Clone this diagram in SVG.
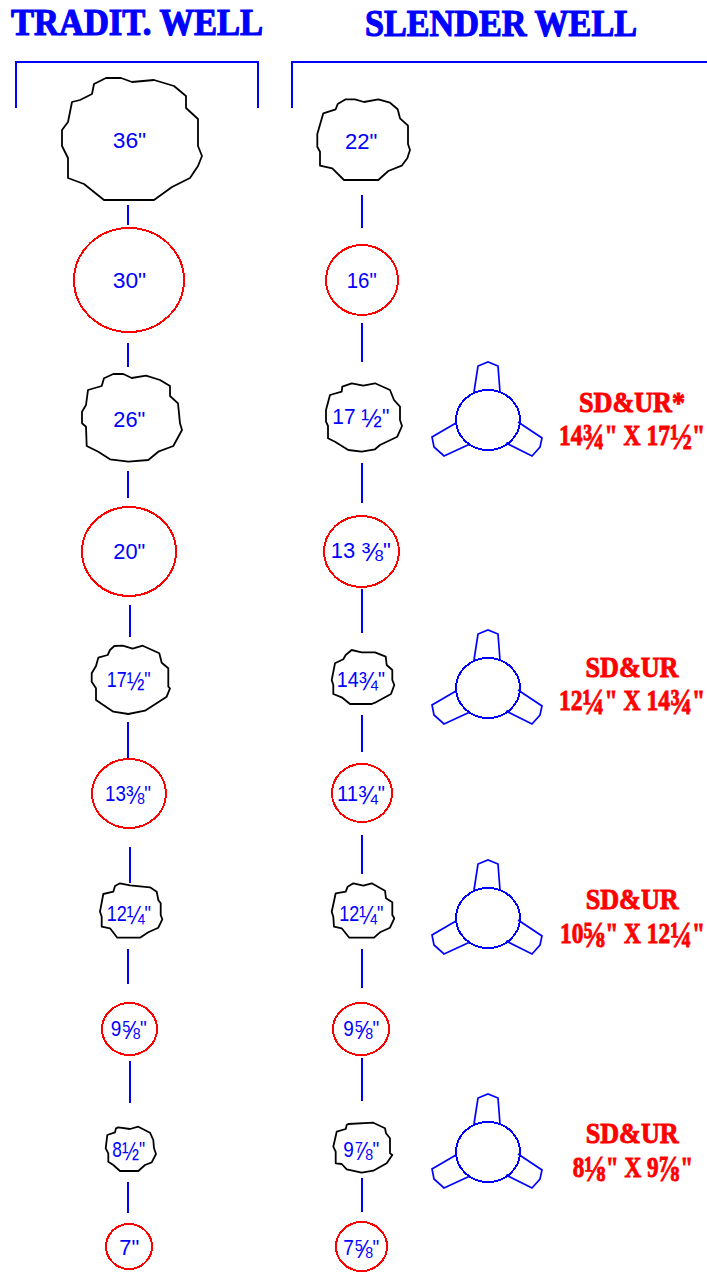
<svg xmlns="http://www.w3.org/2000/svg" xmlns:xlink="http://www.w3.org/1999/xlink" width="707" height="1274" viewBox="0 0 707 1274">
<style>
.bg{fill:#fff}
.con{stroke:#00f;stroke-width:2;fill:none}
.blob{fill:none;stroke:#000;stroke-width:1.8;stroke-linejoin:round}
.hole{fill:none;stroke:#f00;stroke-width:2;shape-rendering:crispEdges}
.lab{font-family:"Liberation Sans",Arial,sans-serif;font-size:22px;fill:#00f}
.lab .f{font-size:26px}
.ti{font-family:"Liberation Serif","Times New Roman",serif;font-weight:bold;font-size:38px;fill:#00f;stroke:#00f;stroke-width:1.2}
.red{font-family:"Liberation Serif","Times New Roman",serif;font-weight:bold;font-size:29px;fill:#f00;stroke:#f00;stroke-width:.9}
.red .f{font-size:36px}
.tool{fill:none;stroke:#00f;stroke-width:1.7}
.toolc{fill:none;stroke:#00f;stroke-width:2;shape-rendering:crispEdges}
</style>
<defs>
<g id="ur">
<ellipse class="toolc" cx="0" cy="0" rx="32" ry="30"/>
<polyline class="tool" points="-14,-28 -10,-54 0,-58 10,-54 12,-28"/>
<polyline class="tool" points="-32,3 -56,17 -54,27 -44,36 -18,24"/>
<polyline class="tool" points="30,2 54,18 52,27 44,36 18,23"/>
</g>
</defs>
<rect class="bg" width="707" height="1274"/>
<text id="title-left" class="ti" x="11" y="35" textLength="252" lengthAdjust="spacingAndGlyphs">TRADIT. WELL</text>
<text id="title-right" class="ti" x="365" y="35.5" textLength="272" lengthAdjust="spacingAndGlyphs">SLENDER WELL</text>
<g id="connectors">
<polyline class="con" points="16,108 16,62 258,62 258,108"/>
<polyline class="con" points="292,108 292,62 707,62"/>
<path class="con" d="M128 205V225M128 343V367M128 471V498M130 605V637M128 722V758M130 847V883M128 949V984M130 1061V1103M128 1182V1213"/>
<path class="con" d="M362 195V228M362 323V362M362 463V503M362 589V633M362 715V752M362 835V874M362 949V988M362 1058V1101M362 1178V1212"/>
</g>
<g id="l36"><polygon class="blob" points="106,78 121,78 132,82 154,80 174,86 186,96 186,108 198,119 198,146 202,156 198,166 190,178 172,187 154,200 104,200 84,184 68,178 68,158 62,146 62,130 68,122 72,102 80,100 92,94 94,84"/><text class="lab" x="112.7" y="148" textLength="33.5" lengthAdjust="spacingAndGlyphs">36"</text></g>
<g id="l30"><ellipse class="hole" cx="129" cy="280" rx="55" ry="52"/><text class="lab" x="112.7" y="288" textLength="33.5" lengthAdjust="spacingAndGlyphs">30"</text></g>
<g id="l26"><polygon class="blob" points="113.3,374 123.3,374 131.7,378 146,375.7 160,380 170,386 170,396 178,403.3 180,423.3 182,430 173.3,446 158.3,451.7 148.3,460 128.3,461.7 110,459.3 98.3,451.7 86.7,446 86,426.7 82,423.3 82,411.7 86,405 88,390 101.7,386 104,378.3"/><text class="lab" x="113.3" y="426.7" textLength="32" lengthAdjust="spacingAndGlyphs">26"</text></g>
<g id="l20"><ellipse class="hole" cx="129" cy="551.5" rx="47" ry="44.5"/><text class="lab" x="113.3" y="559" textLength="32" lengthAdjust="spacingAndGlyphs">20"</text></g>
<g id="l17"><polygon class="blob" points="114.3,646 122.7,645.7 132.7,648.7 142.7,645.7 159.3,653.3 161.7,662.7 168.3,668.3 168.3,686.7 170,688.3 166.7,696.7 145,710.7 128.3,714 113.3,711.7 103.3,705 96,700 96,688.3 91.7,681.7 91.7,673.3 96,666 98.3,657.7 107.7,655 110,650"/><text class="lab" x="106.7" y="686.7" textLength="44" lengthAdjust="spacingAndGlyphs">17<tspan class="f" dy="3">½</tspan><tspan dy="-3">"</tspan></text></g>
<g id="l13"><ellipse class="hole" cx="129" cy="793.5" rx="37" ry="34.5"/><text class="lab" x="105" y="800.7" textLength="46" lengthAdjust="spacingAndGlyphs">13<tspan class="f" dy="3">⅜</tspan><tspan dy="-3">"</tspan></text></g>
<g id="l12"><polygon class="blob" points="120,883.3 130,885.3 150,887.3 156.7,891.7 158.3,900 160.7,903.3 160.7,915 162.3,919.3 158.3,927.7 148.3,932.3 140,937.7 117.3,937.7 110,928.3 101.7,926.7 101.7,916.7 100,911.7 103.3,894 113.3,891.7 115,886"/><text class="lab" x="106.7" y="920.7" textLength="44.3" lengthAdjust="spacingAndGlyphs">12<tspan class="f" dy="3">¼</tspan><tspan dy="-3">"</tspan></text></g>
<g id="l9"><ellipse class="hole" cx="129.5" cy="1029" rx="27.5" ry="26"/><text class="lab" x="110.7" y="1036" textLength="36" lengthAdjust="spacingAndGlyphs">9<tspan class="f" dy="3">⅝</tspan><tspan dy="-3">"</tspan></text></g>
<g id="l8"><polygon class="blob" points="118.3,1127.3 130,1129 138.3,1126.7 150,1132.7 153.3,1140 154,1148.3 156,1154 151.7,1162.3 145,1165 138.3,1171 120,1171 113.3,1165 108.3,1161.7 108.3,1153.3 105.7,1148.3 107.3,1135 115,1132.3 116,1128.3"/><text class="lab" x="112.3" y="1156.7" textLength="32.7" lengthAdjust="spacingAndGlyphs">8<tspan class="f" dy="3">½</tspan><tspan dy="-3">"</tspan></text></g>
<g id="l7"><ellipse class="hole" cx="129" cy="1246.5" rx="23" ry="22.5"/><text class="lab" x="119.3" y="1255" textLength="20" lengthAdjust="spacingAndGlyphs">7"</text></g>
<g id="s22"><polygon class="blob" points="345.7,99.3 355,99.3 364,102 378.3,99.3 390,102.7 397.7,109.3 400,118.3 408,125.7 408,144 410,150 407.3,158.3 401.7,165.7 388.3,171 378.3,180 344,180 332.3,168.3 320,165.7 320,151.7 317.3,146.7 317.3,134 323.3,113.3 335.7,109.3 337.7,104"/><text class="lab" x="345" y="149" textLength="32.3" lengthAdjust="spacingAndGlyphs">22"</text></g>
<g id="s16"><ellipse class="hole" cx="362" cy="280" rx="36" ry="35"/><text class="lab" x="346.7" y="288" textLength="30" lengthAdjust="spacingAndGlyphs">16"</text></g>
<g id="s17"><polygon class="blob" points="351.7,383.3 363.3,385.7 375,383.3 390,390 394,400 400,406.7 400,420 402,426 397.3,436.7 380,445 375,449.3 361.7,451.7 348.3,450 335,441.7 328,438.3 328,426 326,421.7 326,410 330,395 341.7,391.7 342.3,386.7"/><text class="lab" x="332.3" y="424.3" textLength="57" lengthAdjust="spacingAndGlyphs">17 <tspan class="f" dy="3">½</tspan><tspan dy="-3">"</tspan></text></g>
<g id="s13"><ellipse class="hole" cx="361.5" cy="551.5" rx="37.5" ry="35.5"/><text class="lab" x="330.7" y="558.3" textLength="60" lengthAdjust="spacingAndGlyphs">13 <tspan class="f" dy="3">⅜</tspan><tspan dy="-3">"</tspan></text></g>
<g id="s14"><polygon class="blob" points="351.7,650 361.7,652.3 375,652.3 385.7,656.7 386.7,665 392.3,670 392.3,680 394.3,685 391,694 375,702.7 371.7,704 350,704 341.7,697.3 333.3,694 333.3,685 331.7,680 335,663.3 343.3,659.3 345.7,655"/><text class="lab" x="336.7" y="687.3" textLength="48.3" lengthAdjust="spacingAndGlyphs">14<tspan class="f" dy="3">¾</tspan><tspan dy="-3">"</tspan></text></g>
<g id="s11"><ellipse class="hole" cx="362" cy="793" rx="30" ry="29"/><text class="lab" x="337" y="800.7" textLength="48" lengthAdjust="spacingAndGlyphs">11<tspan class="f" dy="3">¾</tspan><tspan dy="-3">"</tspan></text></g>
<g id="s12"><polygon class="blob" points="353.3,883.3 363.3,885.7 371.7,883.3 385,890.7 386,898.3 392.3,902.3 392.3,915 394.3,918.3 390,927.7 380,932.3 374,937.7 349.3,937.7 341.7,928.3 334,926.7 333.3,916.7 331.7,911.7 335.7,893.3 345.7,891.7 347.7,886.7"/><text class="lab" x="339.3" y="920.7" textLength="44" lengthAdjust="spacingAndGlyphs">12<tspan class="f" dy="3">¼</tspan><tspan dy="-3">"</tspan></text></g>
<g id="s9a"><ellipse class="hole" cx="361" cy="1029" rx="28" ry="26"/><text class="lab" x="343.3" y="1036" textLength="36" lengthAdjust="spacingAndGlyphs">9<tspan class="f" dy="3">⅝</tspan><tspan dy="-3">"</tspan></text></g>
<g id="s9b"><polygon class="blob" points="348.3,1124 373.3,1122.7 385,1128.3 386,1133.3 390,1138.3 390,1153.3 392.3,1155 386.7,1163.3 373.3,1170.7 361.7,1172.7 346.7,1169.3 341.7,1164 335.7,1163.3 335.7,1151.7 333.3,1146.7 336.7,1131.7 345.7,1129 346.7,1125"/><text class="lab" x="343.3" y="1156.7" textLength="36" lengthAdjust="spacingAndGlyphs">9<tspan class="f" dy="3">⅞</tspan><tspan dy="-3">"</tspan></text></g>
<g id="s7"><ellipse class="hole" cx="361.5" cy="1246.5" rx="25.5" ry="24.5"/><text class="lab" x="343.3" y="1255" textLength="36" lengthAdjust="spacingAndGlyphs">7<tspan class="f" dy="3">⅝</tspan><tspan dy="-3">"</tspan></text></g>
<g id="u1"><use xlink:href="#ur" href="#ur" x="488" y="420"/><text class="red" x="579" y="412" textLength="106" lengthAdjust="spacingAndGlyphs">SD&amp;UR*</text><text class="red" x="559" y="445" textLength="146" lengthAdjust="spacingAndGlyphs">14<tspan class="f" dy="4">¾</tspan><tspan dy="-4">" X 17</tspan><tspan class="f" dy="4">½</tspan><tspan dy="-4">"</tspan></text></g>
<g id="u2"><use xlink:href="#ur" href="#ur" x="488" y="688"/><text class="red" x="585.5" y="677" textLength="93" lengthAdjust="spacingAndGlyphs">SD&amp;UR</text><text class="red" x="559" y="710" textLength="146" lengthAdjust="spacingAndGlyphs">12<tspan class="f" dy="4">¼</tspan><tspan dy="-4">" X 14</tspan><tspan class="f" dy="4">¾</tspan><tspan dy="-4">"</tspan></text></g>
<g id="u3"><use xlink:href="#ur" href="#ur" x="488" y="918"/><text class="red" x="585.7" y="909" textLength="93" lengthAdjust="spacingAndGlyphs">SD&amp;UR</text><text class="red" x="560" y="943" textLength="145" lengthAdjust="spacingAndGlyphs">10<tspan class="f" dy="4">⅝</tspan><tspan dy="-4">" X 12</tspan><tspan class="f" dy="4">¼</tspan><tspan dy="-4">"</tspan></text></g>
<g id="u4"><use xlink:href="#ur" href="#ur" x="488" y="1152"/><text class="red" x="585.7" y="1143" textLength="93" lengthAdjust="spacingAndGlyphs">SD&amp;UR</text><text class="red" x="572.7" y="1177" textLength="120.3" lengthAdjust="spacingAndGlyphs">8<tspan class="f" dy="4">⅛</tspan><tspan dy="-4">" X 9</tspan><tspan class="f" dy="4">⅞</tspan><tspan dy="-4">"</tspan></text></g>
</svg>
